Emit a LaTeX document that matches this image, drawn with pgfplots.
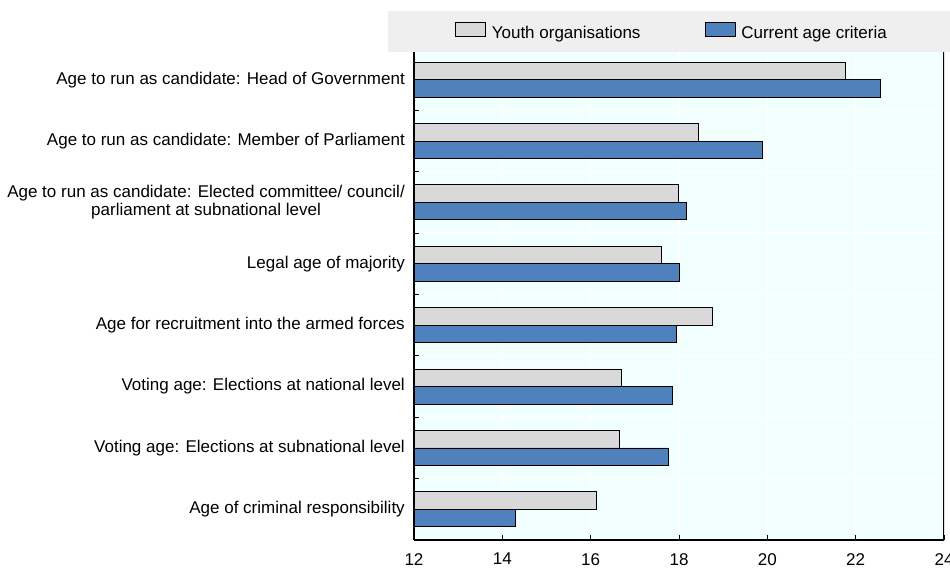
\documentclass[border=0pt]{standalone}
\usepackage{fontspec}
\setmainfont{Liberation Sans}
\usepackage{pgfplots}
\pgfplotsset{compat=1.18}
\definecolor{youth}{HTML}{D9D9D9}
\definecolor{curr}{HTML}{4F81BD}
\definecolor{bgc}{HTML}{F2FFFF}
\definecolor{band}{HTML}{EFEFEF}
\begin{document}
\begin{tikzpicture}[x=1pt,y=1pt]
\useasboundingbox (0,0) rectangle (950,572);
\fill[band] (388,520) rectangle (950,561);
\begin{axis}[
  at={(414pt,32pt)}, anchor=south west,
  scale only axis, width=530pt, height=488pt,
  xbar=0pt, bar width=17.5pt,
  y dir=reverse, ymin=-0.45, ymax=7.5,
  xmin=12, xmax=24, xtick={12,14,...,24},
  ytick={0,...,7}, minor ytick={0.5,1.5,...,6.5},
  yticklabels={
    {Age to run as candidate: Head of Government},
    {Age to run as candidate: Member of Parliament},
    {Age to run as candidate: Elected committee/ council/\\parliament at subnational level},
    {Legal age of majority},
    {Age for recruitment into the armed forces},
    {Voting age: Elections at national level},
    {Voting age: Elections at subnational level},
    {Age of criminal responsibility}},
  axis x line*=bottom, axis y line*=left,
  axis line style={line width=1.3pt, black},
  tick align=inside, major tick length=5pt, minor tick length=5pt,
  every major y tick/.append style={draw=none},
  every tick/.append style={black, line width=1pt},
  xmajorgrids, yminorgrids,
  major grid style={white, line width=1.2pt},
  minor grid style={white, line width=1.2pt},
  axis background/.style={fill=bgc},
  /pgf/number format/assume math mode=true,
  yticklabel style={font=\fontsize{17}{17.7}\selectfont, align=center, inner sep=0pt, xshift=-9pt},
  xticklabel style={font=\fontsize{17}{17.7}\selectfont, inner sep=0pt, yshift=-13pt},
  legend image code/.code={\draw[#1] (0pt,-3pt) rectangle (30pt,11pt);},
  legend style={at={(axis description cs:0.077,1.043)}, anchor=west, draw=none, fill=none,
    legend columns=2, font=\fontsize{17}{17.7}\selectfont, inner sep=0pt,
    nodes={inner sep=0pt},
    /tikz/every odd column/.append style={column sep=6pt},
    /tikz/every even column/.append style={column sep=64pt}},
]
\addplot[fill=youth, draw=black, line width=0.8pt, bar shift=8.75pt] coordinates {
  (21.77,0) (18.45,1) (17.98,2) (17.61,3) (18.75,4) (16.70,5) (16.64,6) (16.13,7)};
\addlegendentry{Youth organisations}
\addplot[fill=curr, draw=black, line width=0.8pt, bar shift=-8.75pt] coordinates {
  (22.55,0) (19.89,1) (18.16,2) (18.00,3) (17.93,4) (17.84,5) (17.77,6) (14.30,7)};
\addlegendentry{Current age criteria}
\draw[line width=1.3pt, black] (rel axis cs:1,0) -- (rel axis cs:1,1);
\end{axis}
\end{tikzpicture}
\end{document}
